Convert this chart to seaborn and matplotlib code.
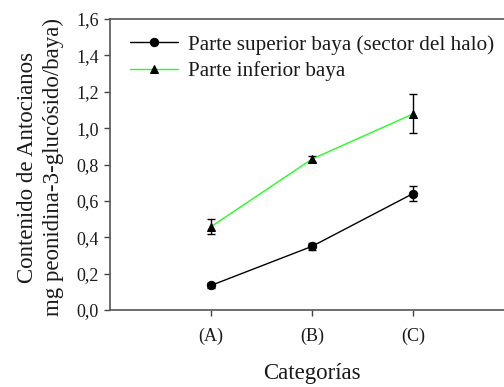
import matplotlib
matplotlib.use("Agg")
import matplotlib.pyplot as plt
import seaborn as sns
import pandas as pd

categorias = ["(A)", "(B)", "(C)"]
superior = [0.135, 0.350, 0.640]
superior_err = [0.012, 0.018, 0.042]
inferior = [0.458, 0.830, 1.078]
inferior_err = [0.040, 0.018, 0.107]

serie_sup = "Parte superior baya (sector del halo)"
serie_inf = "Parte inferior baya"

sns.set_theme(style="ticks")
plt.rcParams["font.family"] = ["Liberation Serif", "DejaVu Serif"]

pos = [1, 2, 3]
df = pd.DataFrame({
    "x": pos * 2,
    "valor": superior + inferior,
    "serie": [serie_sup] * 3 + [serie_inf] * 3,
})

fig = plt.figure(figsize=(5.04, 3.87), dpi=100)
ax = fig.add_axes([110 / 504, 77 / 387, 404 / 504, 291 / 387])

palette = {serie_sup: "black", serie_inf: "#22ff22"}
markers = {serie_sup: "o", serie_inf: "^"}
sns.lineplot(data=df, x="x", y="valor", hue="serie", style="serie", palette=palette,
             markers=markers, dashes=False, markersize=6, markerfacecolor="black",
             markeredgecolor="black", linewidth=1.0, ax=ax, zorder=3)

ax.errorbar(pos, superior, yerr=superior_err, fmt="none", ecolor="black", elinewidth=1, capsize=3, capthick=1)
ax.errorbar(pos, inferior, yerr=inferior_err, fmt="none", ecolor="black", elinewidth=1, capsize=3, capthick=1)

ax.set_xlim(0, 4)
ax.set_ylim(0, 1.6)
ax.set_xticks(pos)
ax.set_xticklabels(categorias)
yt = [0, 0.2, 0.4, 0.6, 0.8, 1.0, 1.2, 1.4, 1.6]
ax.set_yticks(yt)
ax.set_yticklabels([f"{v:.1f}".replace(".", ",") for v in yt])
ax.tick_params(axis="both", direction="out", length=4, width=1, color="#444444",
               labelsize=13, labelcolor="#1a1a1a", pad=4)
ax.tick_params(axis="x", pad=9)

for s in ["left", "bottom", "top", "right"]:
    ax.spines[s].set_color("#555555")
    ax.spines[s].set_linewidth(1.2)

ax.set_xlabel("Categorías", fontsize=16.5, color="#1a1a1a")
ax.xaxis.set_label_coords(0.5, -0.182)
ax.set_ylabel("Contenido de Antocianos\nmg peonidina-3-glucósido/baya)", fontsize=16.5,
              linespacing=1.3, color="#1a1a1a")
ax.yaxis.set_label_coords(-0.113, 0.49)

leg = ax.legend(loc="center left", frameon=False,
                fontsize=15.2, handlelength=2.25, handletextpad=0.5, borderaxespad=0,
                borderpad=0, labelspacing=0.3)
leg.set_bbox_to_anchor((20 / 404, (310 - 58) / 291), transform=ax.transAxes)
for h in leg.legend_handles:
    h.set_markerfacecolor("black")
    h.set_markeredgecolor("black")
for t in leg.get_texts():
    t.set_color("#1a1a1a")

fig.savefig("out.png", dpi=100)
